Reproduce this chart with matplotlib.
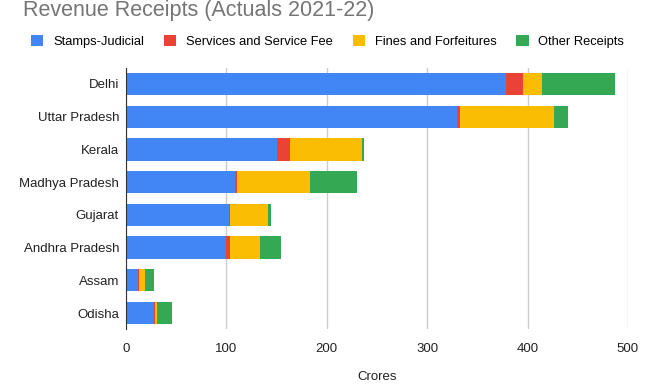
import matplotlib.pyplot as plt
import numpy as np
from matplotlib.patches import Patch

states = ['Delhi', 'Uttar Pradesh', 'Kerala', 'Madhya Pradesh', 'Gujarat',
          'Andhra Pradesh', 'Assam', 'Odisha']
stamps = [379, 330, 150, 109, 102.5, 99.5, 12, 27.5]
services = [17, 3, 13, 2, 1, 4, 0.5, 1.5]
fines = [18, 93, 72.5, 72.5, 38, 30, 6.5, 1.5]
other = [73, 14, 2, 46.5, 3, 20.5, 9, 15]

series_names = ['Stamps-Judicial', 'Services and Service Fee',
                'Fines and Forfeitures', 'Other Receipts']
colors = ['#4285F4', '#EA4335', '#FBBC04', '#34A853']

plt.rcParams['font.family'] = ['Liberation Sans', 'DejaVu Sans']

fig = plt.figure(figsize=(6.5, 3.85), dpi=100)
ax = fig.add_axes([0.1938, 0.1444, 0.7722, 0.68])

y = np.arange(len(states))
left = np.zeros(len(states))
for vals, c in zip([stamps, services, fines, other], colors):
    ax.barh(y, vals, left=left, height=0.68, color=c, zorder=3)
    left += np.array(vals)

ax.set_ylim(len(states) - 0.5, -0.5)
ax.set_xlim(0, 500)
ax.set_xticks([0, 100, 200, 300, 400, 500])
ax.set_yticks(y)
ax.set_yticklabels(states)
ax.grid(axis='x', color='#cccccc', linewidth=1, zorder=0)
for s in ['top', 'right', 'bottom']:
    ax.spines[s].set_visible(False)
ax.spines['left'].set_color('#333333')
ax.spines['left'].set_zorder(4)
ax.tick_params(axis='both', length=0, labelsize=9.5, colors='#222222')
ax.tick_params(axis='x', pad=10)
ax.tick_params(axis='y', pad=5)
ax.set_xlabel('Crores', fontsize=9.5, color='#222222', labelpad=11)

fig.text(0.035, 0.974, 'Revenue Receipts (Actuals 2021-22)', fontsize=15.5,
         color='#757575', va='center', ha='left')

handles = [Patch(facecolor=c, edgecolor='none') for c in colors]
fig.legend(handles, series_names, loc='center left', bbox_to_anchor=(0.040, 0.892),
           ncol=4, frameon=False, fontsize=9.3, handlelength=0.95, handleheight=0.95,
           handletextpad=0.75, columnspacing=1.55, borderaxespad=0)

fig.savefig('out.png', dpi=100)
